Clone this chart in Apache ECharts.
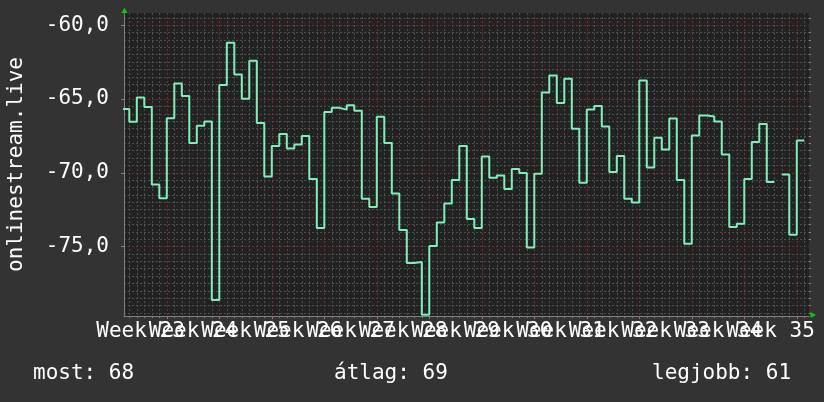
<!DOCTYPE html>
<html><head><meta charset="utf-8">
<script src="https://cdn.jsdelivr.net/npm/echarts@6/dist/echarts.min.js"></script>
<style>html,body{margin:0;padding:0;background:#333333;}#c{width:824px;height:402px;}</style>
</head><body><div id="c"></div>
<script>
// ---- data (one value per day, day 0 = first partially visible day) ----
const dailyValues = [
  -65.67, -66.55, -64.90, -65.54, -70.80, -71.73, -66.30, -63.95, -64.79, -67.98,
  -66.82, -66.53, -78.62, -64.05, -61.18, -63.34, -64.99, -62.40, -66.62, -70.26,
  -68.18, -67.37, -68.36, -68.09, -67.50, -70.42, -73.74, -65.88, -65.60, -65.72,
  -65.42, -65.79, -71.77, -72.32, -66.21, -67.98, -71.41, -73.88, -76.11, -76.05,
  -79.62, -74.96, -73.38, -72.09, -70.49, -68.18, -73.13, -73.74, -68.90, -70.33,
  -70.19, -71.10, -69.74, -70.01, -75.07, -70.06, -64.56, -63.41, -65.27, -63.62,
  -67.01, -70.67, -65.72, -65.47, -66.87, -69.94, -68.86, -71.77, -72.02, -63.75,
  -69.65, -67.62, -68.43, -66.33, -70.49, -74.82, -67.48, -66.12, -66.19, -66.53,
  -68.77, -73.67, -73.45, -70.42, -67.91, -66.69, -70.62, null, -70.12, -74.21,
  -67.82
];
const weekLabels = ['Week 23','Week 24','Week 25','Week 26','Week 27','Week 28','Week 29',
                    'Week 30','Week 31','Week 32','Week 33','Week 34','Week 35'];
const yTickValues = [-75, -70, -65, -60];
const summaryLabels = ['most', 'átlag', 'legjobb'];
const summaryValues = [68, 69, 61];
const yAxisTitle = 'onlinestream.live';

// ---- axis geometry (in day units) ----
const firstWeekStart = -1;      // day index where the first labelled week begins
const daysPerWeek = 7;
const xMin = 0.293, xMax = 91.63;
const yMin = -79.71, yMax = -59.17;

const majorX = [], centersA = [], centersB = [];
weekLabels.forEach((w, k) => {
  const c = firstWeekStart + k * daysPerWeek + daysPerWeek / 2;
  (k % 2 === 0 ? centersA : centersB).push(c);
  majorX.push(firstWeekStart + (k + 1) * daysPerWeek);
});
const weekFormatter = v => weekLabels[Math.round((v - firstWeekStart - daysPerWeek / 2) / daysPerWeek)];
const minorX = [];
for (let d = 1; d <= 91; d++) if (majorX.indexOf(d) < 0) minorX.push(d);
const minorY = [];
for (let v = -79.5; v <= -59.5; v += 0.5) if (Math.abs(v % 5) > 1e-6) minorY.push(v);

// build step points
const pts = [];
dailyValues.forEach((v, i) => {
  if (v === null) { pts.push([i, '-']); }
  else { pts.push([i, v], [i + 1, v]); }
});

const FONT = 'DejaVu Sans Mono';
const minorLine = { show: true, lineStyle: { color: '#4e4e4e', width: 1, type: [2, 2] } };
const majorLine = { show: true, lineStyle: { color: '#7a2e2e', width: 1, type: [2, 2] } };
const labelBase = { show: true, margin: 5, showMinLabel: true, showMaxLabel: true, hideOverlap: false,
                    color: '#ffffff', fontFamily: FONT, fontSize: 21, formatter: weekFormatter };

const chart = echarts.init(document.getElementById('c'), null, { renderer: 'canvas' });
chart.setOption({
  backgroundColor: '#333333',
  animation: false,
  grid: { left: 124, right: 15, top: 13, bottom: 86, containLabel: false, outerBoundsMode: 'none',
          show: true, backgroundColor: '#222222', borderWidth: 0 },
  xAxis: [
    {
      type: 'value', min: xMin, max: xMax, position: 'bottom',
      axisLine: { show: true, lineStyle: { color: '#808080', width: 1 } },
      axisTick: { show: true, customValues: majorX, length: 3, lineStyle: { color: '#808080' } },
      splitLine: majorLine,
      axisLabel: Object.assign({ customValues: centersA }, labelBase)
    },
    {
      type: 'value', min: xMin, max: xMax, position: 'bottom',
      axisLine: { show: false },
      axisTick: { show: true, customValues: minorX, length: 2, lineStyle: { color: '#808080' } },
      splitLine: minorLine,
      axisLabel: Object.assign({ customValues: centersB }, labelBase)
    }
  ],
  yAxis: [
    {
      type: 'value', min: yMin, max: yMax,
      name: yAxisTitle, nameLocation: 'middle', nameRotate: 90, nameGap: 97,
      nameTextStyle: { color: '#ffffff', fontFamily: FONT, fontSize: 21 },
      axisLine: { show: true, lineStyle: { color: '#808080', width: 1 } },
      axisTick: { show: true, customValues: yTickValues, length: 3, lineStyle: { color: '#808080' } },
      splitLine: majorLine,
      axisLabel: {
        show: true, customValues: yTickValues, margin: 15, showMinLabel: true, showMaxLabel: true,
        color: '#ffffff', fontFamily: FONT, fontSize: 21,
        formatter: v => v.toFixed(1).replace('.', ',')
      }
    },
    {
      type: 'value', min: yMin, max: yMax,
      axisLine: { show: false },
      axisTick: { show: true, customValues: minorY, length: 2, lineStyle: { color: '#808080' } },
      splitLine: minorLine,
      axisLabel: { show: false }
    }
  ],
  series: [{
    type: 'line', xAxisIndex: 0, yAxisIndex: 0, data: pts,
    showSymbol: false, symbol: 'none', connectNulls: false, clip: true,
    lineStyle: { color: '#7cf0b6', width: 2 }, z: 5
  }],
  graphic: [
    { type: 'polygon', shape: { points: [[121.5, 13], [127.5, 13], [124.5, 7.5]] }, style: { fill: '#00d000' }, z: 10 },
    { type: 'polygon', shape: { points: [[810.5, 312], [810.5, 318], [816, 315]] }, style: { fill: '#00d000' }, z: 10 }
  ].concat(summaryLabels.map((s, i) => ({
    type: 'text',
    left: [33, 334, 652][i], top: 363,
    style: { text: s + ': ' + summaryValues[i], fill: '#ffffff', font: '21px "' + FONT + '"' }
  })))
});
</script>
</body></html>
